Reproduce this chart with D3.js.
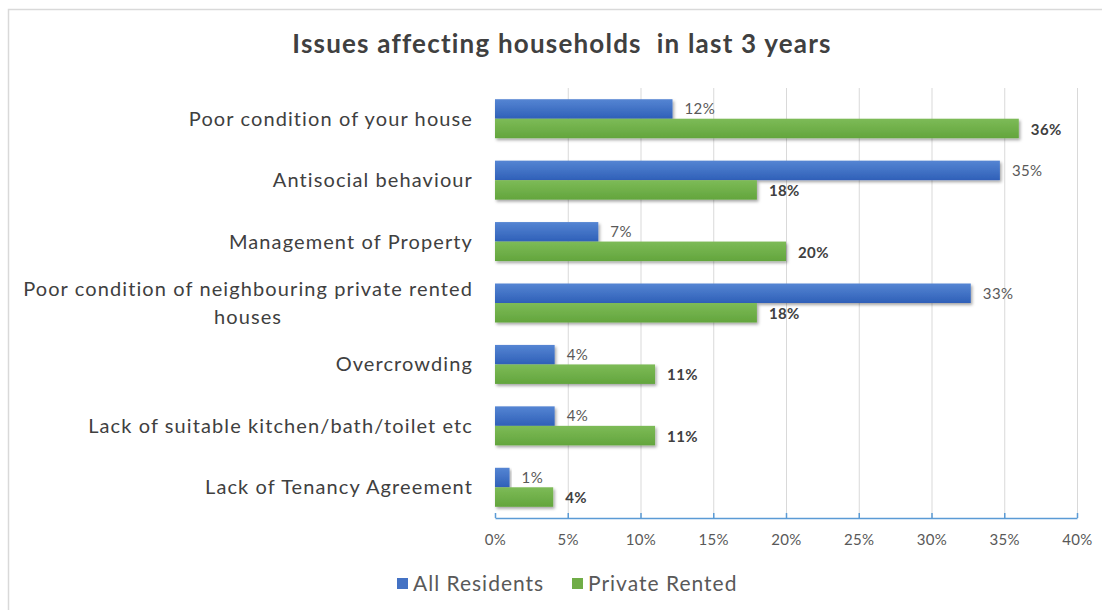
<!DOCTYPE html>
<html><head><meta charset="utf-8">
<script src="https://cdn.jsdelivr.net/npm/d3@7"></script>
<style>html,body{margin:0;padding:0;background:#fff;}svg{display:block;}</style>
</head><body>
<script>
const categories = [
  "Poor condition of your house",
  "Antisocial behaviour",
  "Management of Property",
  "Poor condition of neighbouring private rented\nhouses",
  "Overcrowding",
  "Lack of suitable kitchen/bath/toilet etc",
  "Lack of Tenancy Agreement"
];
const allResidents = [12.2, 34.7, 7.1, 32.7, 4.1, 4.1, 1.0];
const privateRented = [36.0, 18.0, 20.0, 18.0, 11.0, 11.0, 4.0];
const tickValues = [0, 5, 10, 15, 20, 25, 30, 35, 40];
const seriesNames = ["All Residents", "Private Rented"];

const W = 1102, H = 610;
const FONT = "Lato, 'Open Sans', sans-serif";
const pct = v => d3.format(".0f")(v) + "%";
const svg = d3.select("body").append("svg").attr("width", W).attr("height", H);

const defs = svg.append("defs");
function grad(id, c1, c2){
  const g = defs.append("linearGradient").attr("id", id).attr("x1",0).attr("y1",0).attr("x2",0).attr("y2",1);
  g.append("stop").attr("offset","0%").attr("stop-color",c1);
  g.append("stop").attr("offset","100%").attr("stop-color",c2);
}
grad("gBlue", "#5585d3", "#2f60b8");
grad("gGreen", "#7dbb57", "#63a53d");
const f = defs.append("filter").attr("id","shadow").attr("x","-5%").attr("y","-20%").attr("width","115%").attr("height","160%");
f.append("feDropShadow").attr("dx",1.5).attr("dy",2).attr("stdDeviation",1.5).attr("flood-color","#000").attr("flood-opacity",0.35);

// border
svg.append("rect").attr("x",8.5).attr("y",9.5).attr("width",1200).attr("height",800)
  .attr("fill","#fff").attr("stroke","#d9d9d9").attr("stroke-width",1.5);

// title
svg.append("text").attr("x",562).attr("y",53).attr("text-anchor","middle")
  .attr("font-family",FONT).attr("font-weight","bold").attr("font-size",26)
  .attr("letter-spacing","1.2px")
  .attr("fill","#404040").attr("xml:space","preserve")
  .text("Issues affecting households  in last 3 years");

const x = d3.scaleLinear().domain([0, 40]).range([495, 1077]);
const y = d3.scaleBand().domain(categories).range([88, 518]).padding(0);
const barH = 19.5;
const groupH = barH*2;

// gridlines
svg.append("g").selectAll("line").data(tickValues.slice(1)).join("line")
  .attr("x1", d=>x(d)+0.5).attr("x2", d=>x(d)+0.5).attr("y1", 88).attr("y2", 518)
  .attr("stroke","#d9d9d9").attr("stroke-width",1);

// bars
const rows = categories.map((c,i)=>({c, a: allResidents[i], p: privateRented[i]}));
const barsG = svg.append("g");
rows.forEach(r=>{
  const top = y(r.c) + (y.bandwidth()-groupH)/2;
  barsG.append("rect").attr("x", x(0)).attr("y", top).attr("width", x(r.a)-x(0)).attr("height", barH)
    .attr("fill","url(#gBlue)").attr("filter","url(#shadow)");
  barsG.append("rect").attr("x", x(0)).attr("y", top+barH).attr("width", x(r.p)-x(0)).attr("height", barH)
    .attr("fill","url(#gGreen)").attr("filter","url(#shadow)");
  svg.append("text").attr("x", x(r.a)+12).attr("y", top+barH/2).attr("dy","0.35em")
    .attr("font-family",FONT).attr("font-size",15).attr("letter-spacing","0.4px").attr("fill","#595959").text(pct(r.a));
  svg.append("text").attr("x", x(r.p)+12).attr("y", top+barH*1.5+1).attr("dy","0.35em")
    .attr("font-family",FONT).attr("font-size",15).attr("letter-spacing","0.4px").attr("font-weight","bold").attr("fill","#404040").text(pct(r.p));
});

// axis
const axis = d3.axisBottom(x).tickValues(tickValues).tickFormat(d=>d+"%").tickSize(0).tickPadding(16);
const ax = svg.append("g").attr("transform","translate(0,518)").call(axis);
ax.select(".domain").attr("stroke","#5b9bd5").attr("stroke-width",1.5);
ax.selectAll(".tick text").attr("font-family",FONT).attr("font-size",15).attr("letter-spacing","0.3px").attr("fill","#595959");
ax.selectAll(".tick").append("line").attr("y1",0).attr("y2",-5).attr("stroke","#5b9bd5").attr("stroke-width",1.5);

// category labels
const labG = svg.append("g").attr("font-family",FONT).attr("font-size",20).attr("letter-spacing","1.1px").attr("fill","#404040");
categories.forEach(c=>{
  const lines = c.split("\n");
  const cy = y(c) + y.bandwidth()/2;
  if (lines.length === 1) {
    labG.append("text").attr("x",473).attr("y",cy).attr("dy","0.35em").attr("text-anchor","end").text(c);
  } else {
    const t1 = labG.append("text").attr("x",473).attr("y",cy-14).attr("dy","0.35em").attr("text-anchor","end").text(lines[0]);
    const w = t1.node().getComputedTextLength();
    labG.append("text").attr("x",473 - w/2).attr("y",cy+14).attr("dy","0.35em").attr("text-anchor","middle").text(lines[1]);
  }
});

// legend
const legColors = ["#4472c4", "#70ad47"];
const legX = [397, 572];
seriesNames.forEach((s,i)=>{
  svg.append("rect").attr("x",legX[i]).attr("y",578).attr("width",11).attr("height",11).attr("fill",legColors[i]);
  svg.append("text").attr("x",legX[i]+16).attr("y",584).attr("dy","0.35em")
    .attr("font-family",FONT).attr("font-size",21).attr("letter-spacing","1px").attr("fill","#595959").text(s);
});
</script>
</body></html>
